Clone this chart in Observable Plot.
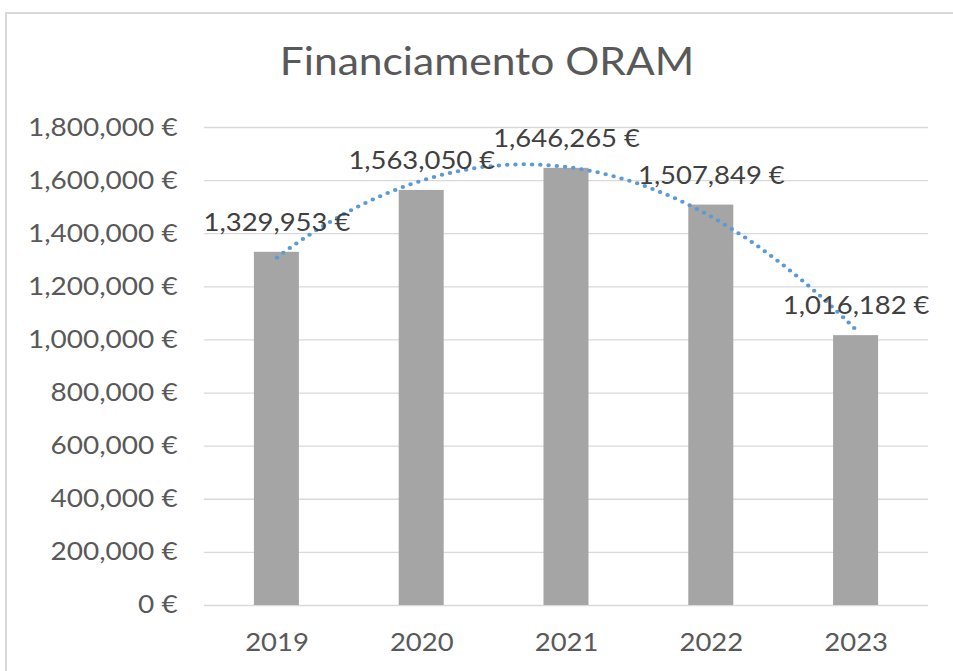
<!DOCTYPE html>
<html>
<head>
<meta charset="utf-8">
<script src="https://cdn.jsdelivr.net/npm/d3@7"></script>
<script src="https://cdn.jsdelivr.net/npm/@observablehq/plot@0.6"></script>
<style>
  html, body { margin: 0; padding: 0; background: #fff; }
  body { width: 953px; height: 671px; position: relative; overflow: hidden; }
  #frame { position: absolute; left: 5px; top: 12px; width: 1000px; height: 700px; border: 2px solid #d9d9d9; box-sizing: border-box; }
  #wrap { position: absolute; left: 0; top: 0; transform-origin: 0 0; }
</style>
</head>
<body>
<div id="frame"></div>
<div id="wrap"></div>
<script>
// ---- data ----
const title = "Financiamento ORAM";
const years = [2019, 2020, 2021, 2022, 2023];
const values = [1329953, 1563050, 1646265, 1507849, 1016182];
const yTicks = [0, 200000, 400000, 600000, 800000, 1000000, 1200000, 1400000, 1600000, 1800000];

const data = years.map((year, i) => ({year, value: values[i]}));

// ---- least-squares polynomial (order 2) trendline, as Excel draws it ----
function quadFit(xs, ys) {
  const mx = d3.mean(xs);
  const u = xs.map(x => x - mx);
  const s = k => d3.sum(u, v => v ** k);
  const t = k => d3.sum(u, (v, i) => v ** k * ys[i]);
  const A = [[xs.length, s(1), s(2)], [s(1), s(2), s(3)], [s(2), s(3), s(4)]];
  const B = [t(0), t(1), t(2)];
  const det = M => M[0][0]*(M[1][1]*M[2][2]-M[1][2]*M[2][1]) - M[0][1]*(M[1][0]*M[2][2]-M[1][2]*M[2][0]) + M[0][2]*(M[1][0]*M[2][1]-M[1][1]*M[2][0]);
  const D = det(A);
  const coef = [0, 1, 2].map(c => det(A.map((row, r) => row.map((v, j) => j === c ? B[r] : v))) / D);
  return x => coef[0] + coef[1] * (x - mx) + coef[2] * (x - mx) ** 2;
}
const f = quadFit(years, values);
const trend = d3.range(0, 201).map(i => {
  const x = years[0] + (years[years.length - 1] - years[0]) * i / 200;
  return {x, y: f(x)};
});

// ---- layout ----
const W = 953, H = 671, S = 1.12;      // S: horizontal stretch of the reference rendering
const w = W / S;
const left = 204 / S, right = 928 / S;
const bandPx = (right - left) / years.length;
const barPx = 45 / S;
const inset = (bandPx - barPx) / 2;

const fmt = d => d3.format(",")(d) + " €";

const chart = Plot.plot({
  width: w,
  height: H,
  marginLeft: left,
  marginRight: w - right,
  marginTop: 127,
  marginBottom: 66,
  x: {type: "linear", domain: [years[0] - 0.5, years[years.length - 1] + 0.5]},
  y: {domain: [0, 1800000]},
  style: {fontFamily: "Lato, 'Open Sans', sans-serif", fontSize: "24px", background: "transparent", overflow: "visible"},
  marks: [
    Plot.ruleY(yTicks, {stroke: "#d9d9d9", strokeWidth: 1.3}),
    Plot.rectY(data, {x1: d => d.year - 0.5, x2: d => d.year + 0.5, y: "value", fill: "#A5A5A5", insetLeft: inset, insetRight: inset}),
    Plot.line(trend, {x: "x", y: "y", stroke: "#5B9BD5", strokeWidth: 4, strokeDasharray: "0 7.4", strokeLinecap: "round"}),
    Plot.text(data, {x: "year", y: "value", text: d => fmt(d.value), dy: -29, fontSize: 24.5, fill: "#404040"}),
    Plot.axisY({ticks: yTicks, tickFormat: fmt, tickSize: 0, tickPadding: 24, fontSize: 25, fill: "#595959", label: null}),
    Plot.axisX({ticks: years, tickFormat: d => String(d), tickSize: 0, tickPadding: 28, fontSize: 24.5, fill: "#595959", label: null})
  ]
});

d3.select(chart).append("text")
  .attr("x", 487 / S)
  .attr("y", 75)
  .attr("text-anchor", "middle")
  .attr("fill", "#595959")
  .style("font-size", "38px")
  .style("font-family", "Lato, 'Open Sans', sans-serif")
  .text(title);

const wrap = document.getElementById("wrap");
wrap.style.width = w + "px";
wrap.style.height = H + "px";
wrap.style.transform = `scaleX(${S})`;
wrap.appendChild(chart);
</script>
</body>
</html>
